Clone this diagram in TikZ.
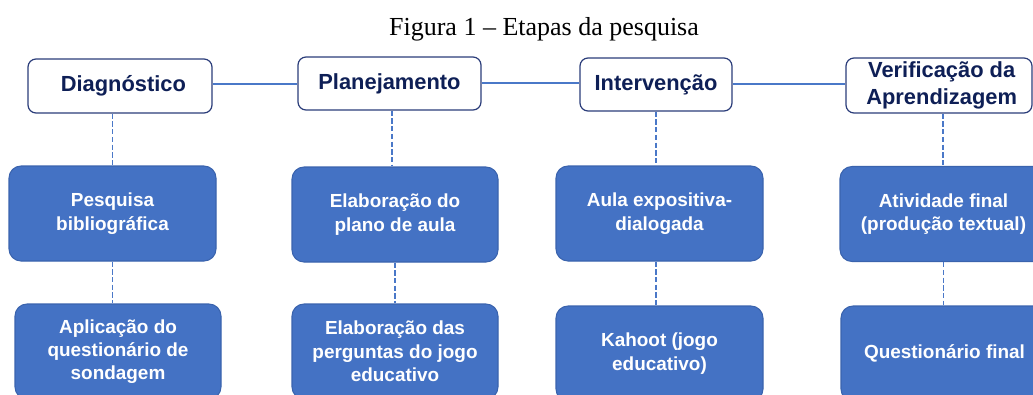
\documentclass[tikz,border=0pt]{standalone}
\usepackage{fontspec}
\setmainfont{Liberation Serif}
\newfontfamily\arialf{Liberation Sans}
\definecolor{boxblue}{HTML}{4472C4}
\definecolor{boxedge}{HTML}{3A63AD}
\definecolor{navy}{HTML}{0E1F56}
\definecolor{navyedge}{HTML}{2B3D7A}
\definecolor{linkblue}{HTML}{4A78C8}
\begin{document}
\begin{tikzpicture}[x=0.75pt,y=-0.75pt,
  headbox/.style={draw=navyedge,line width=0.9pt,fill=white,rounded corners=6pt,
    font=\arialf\bfseries\fontsize{16.4}{19.7}\selectfont,text=navy,align=center,inner sep=0pt},
  bluebox/.style={draw=boxedge,line width=0.8pt,fill=boxblue,rounded corners=9pt,
    font=\arialf\bfseries\fontsize{14.2}{17.5}\selectfont,text=white,align=center,inner sep=0pt,
    minimum width=206*0.75pt,minimum height=95*0.75pt},
  hline/.style={draw=linkblue,line width=1.5pt},
  dline/.style={draw=linkblue,line width=1.3pt,dash pattern=on 4pt off 1.8pt}]
\useasboundingbox (0,0) rectangle (1033,394);
\node[font=\fontsize{19.5}{23}\selectfont,anchor=base] (title) at (544,35) {Figura 1 -- Etapas da pesquisa};
% header boxes
\node[headbox,minimum width=184*0.75pt,minimum height=54*0.75pt] (diag) at (120,86) {\hspace*{5pt}Diagnóstico};
\node[headbox,minimum width=183*0.75pt,minimum height=53*0.75pt] (plan) at (389.5,83.5) {Planejamento};
\node[headbox,minimum width=152*0.75pt,minimum height=53*0.75pt] (interv) at (656,84.5) {Intervenção};
\node[headbox,minimum width=186*0.75pt,minimum height=55*0.75pt] (verif) at (939,85.5) {\hspace*{4pt}Verificação da\\\hspace*{4pt}Aprendizagem};
% blue boxes row 1
\node[bluebox,minimum width=207*0.75pt] (pesq) at (112.5,213.5) {Pesquisa\\bibliográfica};
\node[bluebox] (elab1) at (395,214.5) {Elaboração do\\plano de aula};
\node[bluebox,minimum width=207*0.75pt] (aula) at (659.5,213.5) {Aula expositiva-\\dialogada};
\node[bluebox,minimum width=207*0.75pt] (ativ) at (943.5,214) {Atividade final\\(produção textual)};
% blue boxes row 2
\node[bluebox] (aplic) at (118,351.5) {Aplicação do\\questionário de\\sondagem};
\node[bluebox] (elab2) at (395,351.5) {Elaboração das\\perguntas do jogo\\educativo};
\node[bluebox,minimum width=207*0.75pt] (kahoot) at (659.5,353.5) {Kahoot (jogo\\educativo)};
\node[bluebox,minimum width=207*0.75pt] (quest) at (944.5,353.5) {Questionário final};
% horizontal connectors
\draw[hline] (diag.east |- 0,84) -- (plan.west |- 0,84);
\draw[hline] (plan.east |- 0,83) -- (interv.west |- 0,83);
\draw[hline] (interv.east |- 0,84) -- (verif.west |- 0,84);
% dashed connectors
\draw[dline] (pesq.north |- diag.south) -- (pesq.north);
\draw[dline] (pesq.south) -- (pesq.south |- aplic.north);
\draw[dline] (392,0 |- plan.south) -- (392,0 |- elab1.north);
\draw[dline] (elab1.south) -- (elab1.south |- elab2.north);
\draw[dline] (interv.south) -- (interv.south |- aula.north);
\draw[dline] (aula.south -| interv.south) -- (interv.south |- kahoot.north);
\draw[dline] (943,0 |- verif.south) -- (943,0 |- ativ.north);
\draw[dline] (ativ.south) -- (ativ.south |- quest.north);
\end{tikzpicture}
\end{document}
